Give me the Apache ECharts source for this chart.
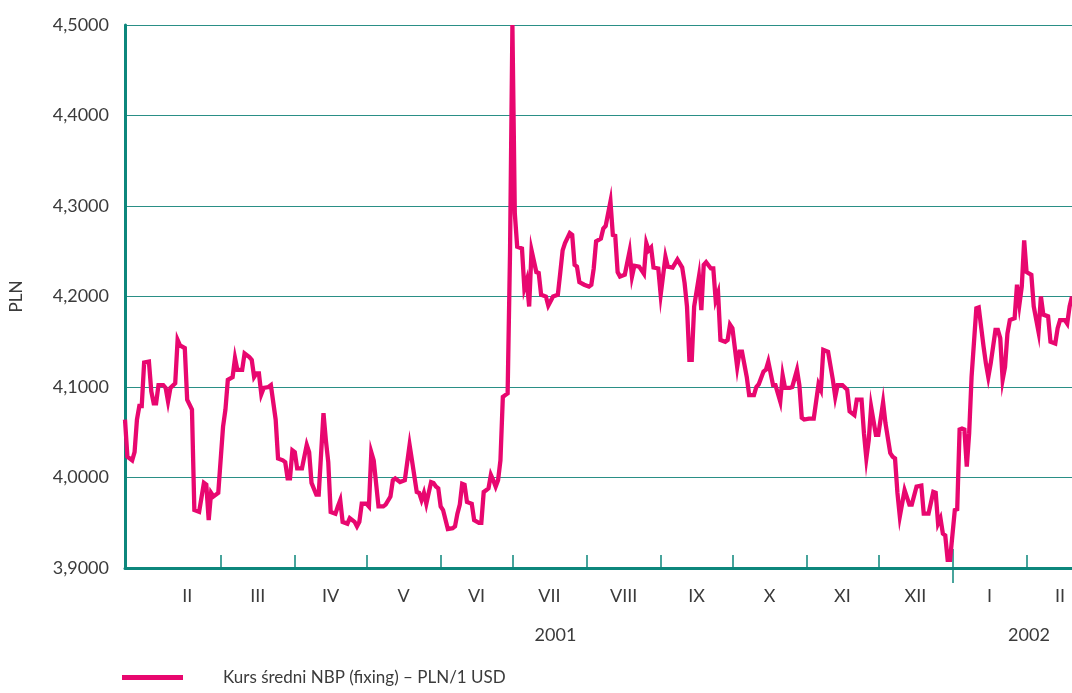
<!DOCTYPE html>
<html>
<head>
<meta charset="utf-8">
<script src="https://cdn.jsdelivr.net/npm/echarts@6/dist/echarts.min.js"></script>
<style>
html,body{margin:0;padding:0;background:#fff;}
#chart{width:1072px;height:693px;}
</style>
</head>
<body>
<div id="chart"></div>
<script>
// Day number = days since 2001-01-01 (fixing dates)
const days = [19,20,22,23,24,25,26,27,29,30,31,32,33,35,36,37,38,40,41,42,44,45,47,48,50,52,53,54,55,56,58,60,61,62,64,65,66,68,69,71,72,73,74,75,76,77,79,80,82,83,
85,86,87,88,89,90,91,93,95,96,97,99,100,102,103,104,105,107,108,109,110,112,113,115,116,117,118,120,121,122,123,125,127,128,130,131,132,134,136,138,139,141,142,143,144,145,147,148,149,150,151,152,
154,156,157,158,159,160,161,162,164,165,167,168,169,170,171,172,173,174,175,176,177,178,179,180,181,182,183,185,186,187,188,189,191,192,193,195,196,198,200,201,202,203,205,206,207,208,209,211,213,214,215,216,218,219,220,
222,223,224,225,226,228,230,231,232,234,236,237,238,239,240,242,243,245,246,248,250,252,253,254,255,256,257,259,260,261,262,264,265,266,267,268,270,271,272,273,275,276,277,279,280,282,283,284,286,
287,288,290,291,293,294,295,297,298,300,301,302,303,305,307,308,309,310,311,313,315,316,317,319,321,322,324,325,327,328,329,330,331,333,334,336,337,339,340,341,342,343,345,
347,348,350,352,353,355,357,358,359,360,361,362,363,364,366,367,368,369,370,371,372,373,375,376,378,379,380,381,383,384,385,386,387,388,389,391,392,393,394,395,396,398,399,401,402,403,405,406,408,409,410,412,413,414,415];
const rates = [4.064,4.023,4.019,4.028,4.064,4.079,4.079,4.127,4.128,4.095,4.082,4.082,4.102,4.102,4.099,4.084,4.099,4.104,4.152,4.146,4.143,4.086,4.075,3.964,3.962,3.994,3.992,3.953,3.983,3.979,3.983,4.056,4.075,4.108,4.111,4.132,4.119,4.119,4.137,4.133,4.130,4.111,4.115,4.115,4.092,4.099,4.100,4.102,4.064,4.021,
4.019,4.017,3.999,3.999,4.030,4.028,4.010,4.010,4.036,4.028,3.994,3.981,3.981,4.071,4.041,4.017,3.962,3.960,3.968,3.975,3.951,3.949,3.955,3.951,3.946,3.951,3.971,3.971,3.968,4.028,4.019,3.968,3.968,3.970,3.979,3.997,3.999,3.995,3.997,4.036,4.019,3.984,3.983,3.975,3.983,3.971,3.995,3.994,3.990,3.988,3.968,3.964,
3.943,3.944,3.946,3.960,3.970,3.993,3.992,3.973,3.971,3.953,3.950,3.950,3.984,3.986,3.988,4.003,3.997,3.990,3.997,4.019,4.089,4.091,4.093,4.248,4.500,4.292,4.255,4.253,4.209,4.218,4.189,4.251,4.227,4.226,4.202,4.200,4.190,4.200,4.202,4.226,4.251,4.259,4.270,4.268,4.235,4.233,4.216,4.213,4.211,4.213,4.231,4.261,4.264,4.275,4.278,
4.305,4.268,4.267,4.227,4.222,4.224,4.250,4.222,4.234,4.233,4.225,4.259,4.251,4.254,4.232,4.231,4.202,4.244,4.233,4.232,4.241,4.232,4.215,4.189,4.130,4.130,4.189,4.222,4.185,4.235,4.238,4.231,4.231,4.196,4.204,4.152,4.150,4.152,4.169,4.165,4.122,4.139,4.139,4.111,4.091,4.091,4.100,4.103,4.117,
4.119,4.128,4.102,4.102,4.084,4.113,4.099,4.099,4.100,4.119,4.102,4.066,4.064,4.065,4.065,4.084,4.103,4.097,4.141,4.139,4.108,4.089,4.102,4.102,4.097,4.073,4.069,4.086,4.086,4.049,4.021,4.041,4.078,4.047,4.047,4.083,4.060,4.027,4.023,4.021,3.983,3.957,3.986,
3.970,3.970,3.990,3.991,3.960,3.960,3.984,3.983,3.949,3.955,3.938,3.936,3.909,3.909,3.964,3.965,4.053,4.054,4.053,4.012,4.049,4.111,4.187,4.188,4.145,4.126,4.111,4.126,4.163,4.163,4.154,4.108,4.122,4.159,4.174,4.176,4.213,4.191,4.211,4.262,4.227,4.224,4.189,4.161,4.200,4.180,4.178,4.150,4.148,4.165,4.174,4.174,4.170,4.189,4.200];

const monthLabels = ['II','III','IV','V','VI','VII','VIII','IX','X','XI','XII','I','II'];
const monthStarts = ['2001-02-01','2001-03-01','2001-04-01','2001-05-01','2001-06-01','2001-07-01','2001-08-01','2001-09-01','2001-10-01','2001-11-01','2001-12-01','2002-01-01','2002-02-01','2002-03-01'];
const yearLabels = ['2001','2002'];
const yearAnchors = ['2001-07-19','2002-02-02'];
const yTicks = ['3,9000','4,0000','4,1000','4,2000','4,3000','4,4000','4,5000'];
const seriesName = 'Kurs średni NBP (fixing) – PLN/1 USD';
const axisName = 'PLN';

function dayOf(s){
  const p = s.split('-').map(Number);
  return (Date.UTC(p[0],p[1]-1,p[2]) - Date.UTC(2001,0,1)) / 864e5;
}
const startDays = monthStarts.map(dayOf);
const midDays = [];
for (let i = 0; i < startDays.length - 1; i++) midDays.push((startDays[i] + startDays[i+1]) / 2);
const yearStart = dayOf('2002-01-01');
const tickDays = startDays.slice(1, startDays.length - 1).filter(d => d !== yearStart);
const yearDays = yearAnchors.map(dayOf);
const points = days.map((d, i) => [d, rates[i]]);

const TEAL = '#0d877c';
const GRID = '#2a8f86';
const TXT = '#3b3b3b';
const FONT = 'Lato';
const XMIN = 19, XMAX = 415;

function nearestLabel(v, arr, labels){
  let best = 0, bd = Infinity;
  arr.forEach((a, i) => { const dd = Math.abs(a - v); if (dd < bd) { bd = dd; best = i; } });
  return labels[best];
}

const chart = echarts.init(document.getElementById('chart'), null, {renderer: 'canvas'});
chart.setOption({
  animation: false,
  backgroundColor: '#fff',
  textStyle: {fontFamily: FONT},
  grid: {left: 125, right: 0, top: 25, bottom: 125, containLabel: false},
  legend: {
    left: 122, top: 669, padding: 0,
    icon: 'rect', itemWidth: 61, itemHeight: 5,
    textStyle: {fontFamily: FONT, fontSize: 17, color: TXT, padding: [0, 0, 0, 35]},
    data: [seriesName]
  },
  xAxis: [
    {
      type: 'value', min: XMIN, max: XMAX, position: 'bottom',
      axisLine: {show: true, lineStyle: {color: TEAL, width: 3}},
      axisTick: {show: true, inside: true, length: 13, lineStyle: {color: TEAL, width: 1.5}, customValues: tickDays},
      axisLabel: {show: true, customValues: midDays, margin: 19, fontSize: 18, color: TXT, fontFamily: FONT,
        formatter: v => nearestLabel(v, midDays, monthLabels)},
      splitLine: {show: false}
    },
    {
      type: 'value', min: XMIN, max: XMAX, position: 'bottom',
      axisLine: {show: false},
      axisTick: {show: true, inside: true, length: 19, lineStyle: {color: TEAL, width: 1.5}, customValues: [yearStart]},
      axisLabel: {show: false},
      splitLine: {show: false}
    },
    {
      type: 'value', min: XMIN, max: XMAX, position: 'bottom',
      axisLine: {show: false},
      axisTick: {show: true, inside: false, length: 15, lineStyle: {color: TEAL, width: 1.5}, customValues: [yearStart]},
      axisLabel: {show: true, customValues: yearDays, margin: 58, fontSize: 18, color: TXT, fontFamily: FONT,
        formatter: v => nearestLabel(v, yearDays, yearLabels)},
      splitLine: {show: false}
    }
  ],
  yAxis: {
    type: 'value', min: 3.9, max: 4.5, interval: 0.1,
    name: axisName, nameLocation: 'middle', nameRotate: 90, nameGap: 100,
    nameTextStyle: {fontFamily: FONT, fontSize: 17, color: TXT},
    axisLine: {show: true, lineStyle: {color: TEAL, width: 3}},
    axisTick: {show: false},
    axisLabel: {margin: 16, fontSize: 18, color: TXT, fontFamily: FONT,
      formatter: v => yTicks[Math.round((v - 3.9) * 10)]},
    splitLine: {show: true, lineStyle: {color: GRID, width: 1.2}}
  },
  series: [{
    name: seriesName,
    type: 'line',
    xAxisIndex: 0,
    data: points,
    showSymbol: false,
    symbol: 'none',
    color: '#e8076f',
    lineStyle: {color: '#e8076f', width: 4.3, join: 'miter'},
    clip: true
  }]
});
</script>
</body>
</html>
